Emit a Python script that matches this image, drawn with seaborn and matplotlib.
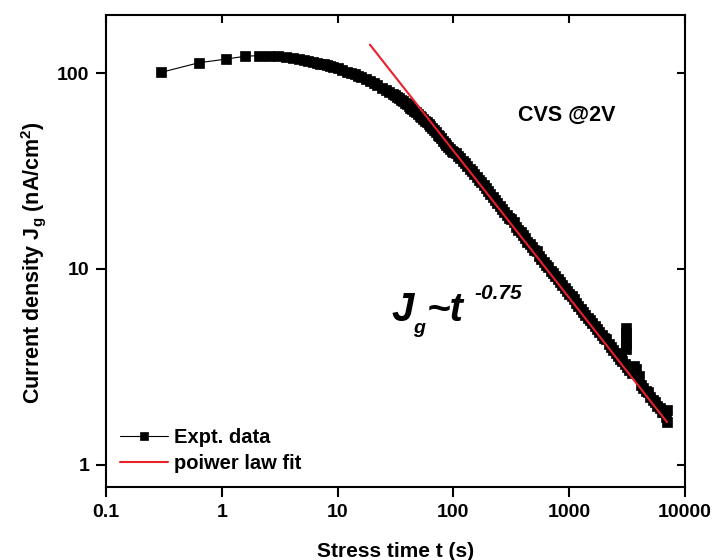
import matplotlib
matplotlib.use("Agg")
import matplotlib.pyplot as plt
import seaborn as sns

# stress time (s) / gate current density (nA/cm^2)
# early part: rise, plateau and bend
t_early = [0.3, 0.63, 1.08, 1.58, 2.08, 2.58, 3.08, 3.58, 4.1, 4.6, 5.1, 5.6, 6.1, 6.6, 7.1,
           7.6, 8.1, 8.6, 9.1, 10, 11, 12, 13, 14, 15, 16, 17.5, 19, 20.5, 22, 24, 26, 28, 30,
           31.2, 32.5, 33.7, 35, 36.5, 38, 39.5, 41, 42.5, 44, 45.7, 47.5, 49.2, 51, 53, 55, 57,
           59, 61, 63, 65.5, 68, 70.5, 73, 75.5, 78, 81, 84, 87, 90, 93.5, 97]
j_early = [101, 113, 118, 122, 123, 123, 122, 121, 119.5, 118, 116.5, 115.5, 114.5, 113, 112,
           111, 110, 109, 108, 106, 104, 102, 100, 98.5, 97, 95.5, 93, 91, 89, 87, 84.5, 82, 80, 78,
           77, 75.5, 74.3, 73, 71.8, 70.5, 69.3, 68, 66.8, 65.5, 64.3, 63, 61.8, 60.5, 59.5, 58.5, 57.2,
           56, 54.8, 53.5, 52.3, 51, 49.8, 48.5, 47.5, 46.5, 45.2, 44, 43, 42, 41, 40]

# power-law tail, up to the jump near 3000 s
t_tail_a = [100, 104.7, 109.6, 114.8, 120.2, 125.9, 131.8, 138.0, 144.5, 151.4, 158.5, 166.0,
            173.8, 182.0, 190.5, 199.5, 208.9, 218.8, 229.1, 239.9, 251.2, 263.0, 275.4, 288.4,
            302.0, 316.2, 331.1, 346.7, 363.1, 380.2, 398.1, 416.9, 436.5, 457.1, 478.6, 501.2,
            524.8, 549.5, 575.4, 602.6, 631.0, 660.7, 691.8, 724.4, 758.6, 794.3, 831.8, 871.0,
            912.0, 955.0, 1000, 1047, 1096, 1148, 1202, 1259, 1318, 1380, 1445, 1514, 1585, 1660,
            1738, 1820, 1905, 1995, 2089, 2188, 2291, 2399, 2512, 2630, 2754, 2884, 3020]
j_tail_a = [39.5, 39.2, 37.8, 36.7, 35.6, 34.6, 33.5, 32.5, 31.7, 30.7, 29.6, 28.6,
            27.7, 26.7, 25.8, 25.0, 24.1, 23.3, 22.5, 21.7, 21.0, 20.3, 19.6, 18.9,
            18.3, 17.9, 17.4, 16.4, 15.9, 15.4, 14.9, 14.4, 13.8, 13.4, 12.9, 12.5,
            12.3, 11.7, 11.2, 10.9, 10.5, 10.2, 9.8, 9.5, 9.16, 8.85, 8.55, 8.26,
            7.98, 7.71, 7.45, 7.3, 7.05, 6.72, 6.49, 6.27, 6.05, 5.85, 5.65, 5.46, 5.27, 5.10,
            4.92, 4.75, 4.60, 4.44, 4.40, 4.14, 4.00, 3.87, 3.73, 3.61, 3.48, 3.37, 3.26]

# stacked points of the jump near 3100 s
t_spike = [3100, 3100, 3100, 3100, 3100]
j_spike = [5.0, 4.7, 4.4, 4.15, 3.9]

# remaining tail
t_tail_b = [3162, 3311, 3467, 3631, 3802, 3981, 4169, 4365, 4571, 4786, 5012, 5248, 5495,
            5754, 6026, 6310, 6607, 6918, 7000, 7000]
j_tail_b = [3.14, 3.04, 2.93, 3.2, 3.1, 2.85, 2.55, 2.46, 2.38, 2.35, 2.23, 2.15, 2.08,
            2.0, 1.95, 1.87, 1.85, 1.75, 1.9, 1.65]

t_data = t_early + t_tail_a + t_spike + t_tail_b
j_data = j_early + j_tail_a + j_spike + j_tail_b

# power law fit J ~ t^-0.75 (end points of the red line)
fit_t = [19, 7000]
fit_j = [140, 1.65]

x_ticks = [0.1, 1, 10, 100, 1000, 10000]
x_tick_labels = ["0.1", "1", "10", "100", "1000", "10000"]
y_ticks = [1, 10, 100]
y_tick_labels = ["1", "10", "100"]

sns.set_theme(style="ticks", rc={"axes.edgecolor": "black", "text.color": "black",
                                 "axes.labelcolor": "black", "xtick.color": "black",
                                 "ytick.color": "black"})
plt.rcParams["font.family"] = ["Liberation Sans", "DejaVu Sans"]
plt.rcParams["font.weight"] = "bold"
plt.rcParams["mathtext.default"] = "regular"

fig = plt.figure(figsize=(7.16, 5.6), dpi=100)
ax = fig.add_axes([0.148, 0.1304, 0.8087, 0.8426])
ax.set_xscale("log")
ax.set_yscale("log")

sns.lineplot(x=t_data, y=j_data, ax=ax, estimator=None, sort=False, color="black",
             linewidth=0.8, marker="s", markersize=7, markeredgecolor="black",
             markeredgewidth=0.5, label="Expt. data")
sns.lineplot(x=fit_t, y=fit_j, ax=ax, color="#e8202a", linewidth=1.5, label="poiwer law fit")

ax.set_xlim(0.1, 10000)
ax.set_ylim(0.77, 198)
ax.set_xticks(x_ticks)
ax.set_xticklabels(x_tick_labels)
ax.set_yticks(y_ticks)
ax.set_yticklabels(y_tick_labels)
ax.minorticks_off()
ax.tick_params(which="major", direction="out", length=7, width=1.5, labelsize=14, pad=5)
for s in ax.spines.values():
    s.set_linewidth(1.5)

# inward ticks on top and right
top = ax.secondary_xaxis("top")
top.set_xticks(x_ticks)
top.set_xticklabels([])
top.minorticks_off()
top.tick_params(direction="in", length=6, width=1.5)
right = ax.secondary_yaxis("right")
right.set_yticks(y_ticks)
right.set_yticklabels([])
right.minorticks_off()
right.tick_params(direction="in", length=6, width=1.5)

ax.set_xlabel("Stress time t (s)", fontsize=15, fontweight="bold")
ax.set_ylabel("Current density J$_{g}$ (nA/cm$^{2}$)", fontsize=15.5, fontweight="bold")
ax.xaxis.set_label_coords(0.5, -0.117)
ax.yaxis.set_label_coords(-0.100, 0.4746)

ax.legend(loc="lower left", frameon=False, fontsize=14.5, handlelength=2.4,
          handletextpad=0.3, borderaxespad=0.3, labelspacing=0.35, markerscale=0.85)

fig.text(518 / 716, 1 - 115 / 560, "CVS @2V", fontsize=15.5, fontweight="bold", va="center")
fig.text(392 / 716, 1 - 321 / 560, "J", fontsize=29, fontweight="bold", style="italic", va="baseline")
fig.text(413 / 716, 1 - 333 / 560, "g", fontsize=14, fontweight="bold", style="italic", va="baseline")
fig.text(427 / 716, 1 - 321 / 560, "~t", fontsize=29, fontweight="bold", style="italic", va="baseline")
fig.text(474 / 716, 1 - 299 / 560, "-0.75", fontsize=15, fontweight="bold", style="italic", va="baseline")

fig.savefig("out.png", dpi=100)
